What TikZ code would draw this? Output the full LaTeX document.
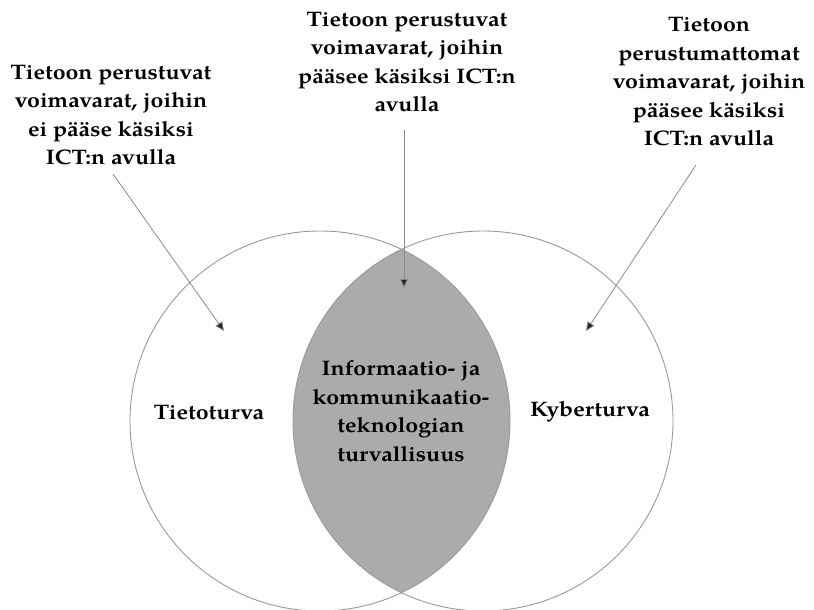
\documentclass[tikz,border=0pt]{standalone}
\usepackage{fontspec}
\setmainfont[FakeStretch=1.1]{TeX Gyre Pagella}
\usetikzlibrary{arrows.meta}
\begin{document}
\begin{tikzpicture}[x=1pt,y=-1pt,
  ring/.style={draw=black!40, line width=0.9pt},
  lens/.style={fill=black!33},
  lbl/.style={align=center, font=\fontsize{21}{28.5}\selectfont\bfseries, inner sep=0pt},
  pointer/.style={draw=black!45, line width=0.8pt, -{Triangle[length=9pt,width=8pt,fill=black!85]}}]
\useasboundingbox (0,0) rectangle (814,610);
% lens
\begin{scope}
  \clip (320,421) circle (190);
  \fill[lens] (483,421) circle (190);
\end{scope}
\draw[ring] (320,421) circle (190);
\draw[ring] (483,421) circle (190);
% labels
\node[lbl] (tl) at (111,115) {Tietoon perustuvat\\voimavarat, joihin\\ei pääse käsiksi\\ICT:n avulla};
\node[lbl] (tm) at (407,62) {Tietoon perustuvat\\voimavarat, joihin\\pääsee käsiksi ICT:n\\avulla};
\node[lbl] (tr) at (709,82) {Tietoon\\perustumattomat\\voimavarat, joihin\\pääsee käsiksi\\ICT:n avulla};
\node[lbl] (left) at (209,413) {Tietoturva};
\node[lbl] (right) at (590,412) {Kyberturva};
\node[lbl] (mid) at (401,411) {Informaatio- ja\\kommunikaatio-\\teknologian\\turvallisuus};
\coordinate (al) at (224,331);
\coordinate (am) at (404,288);
\coordinate (ar) at (586,331);
\draw[pointer] (113,174) -- (al);
\draw[pointer] (404,130) -- (am);
\draw[pointer] (696,165) -- (ar);
\end{tikzpicture}
\end{document}
